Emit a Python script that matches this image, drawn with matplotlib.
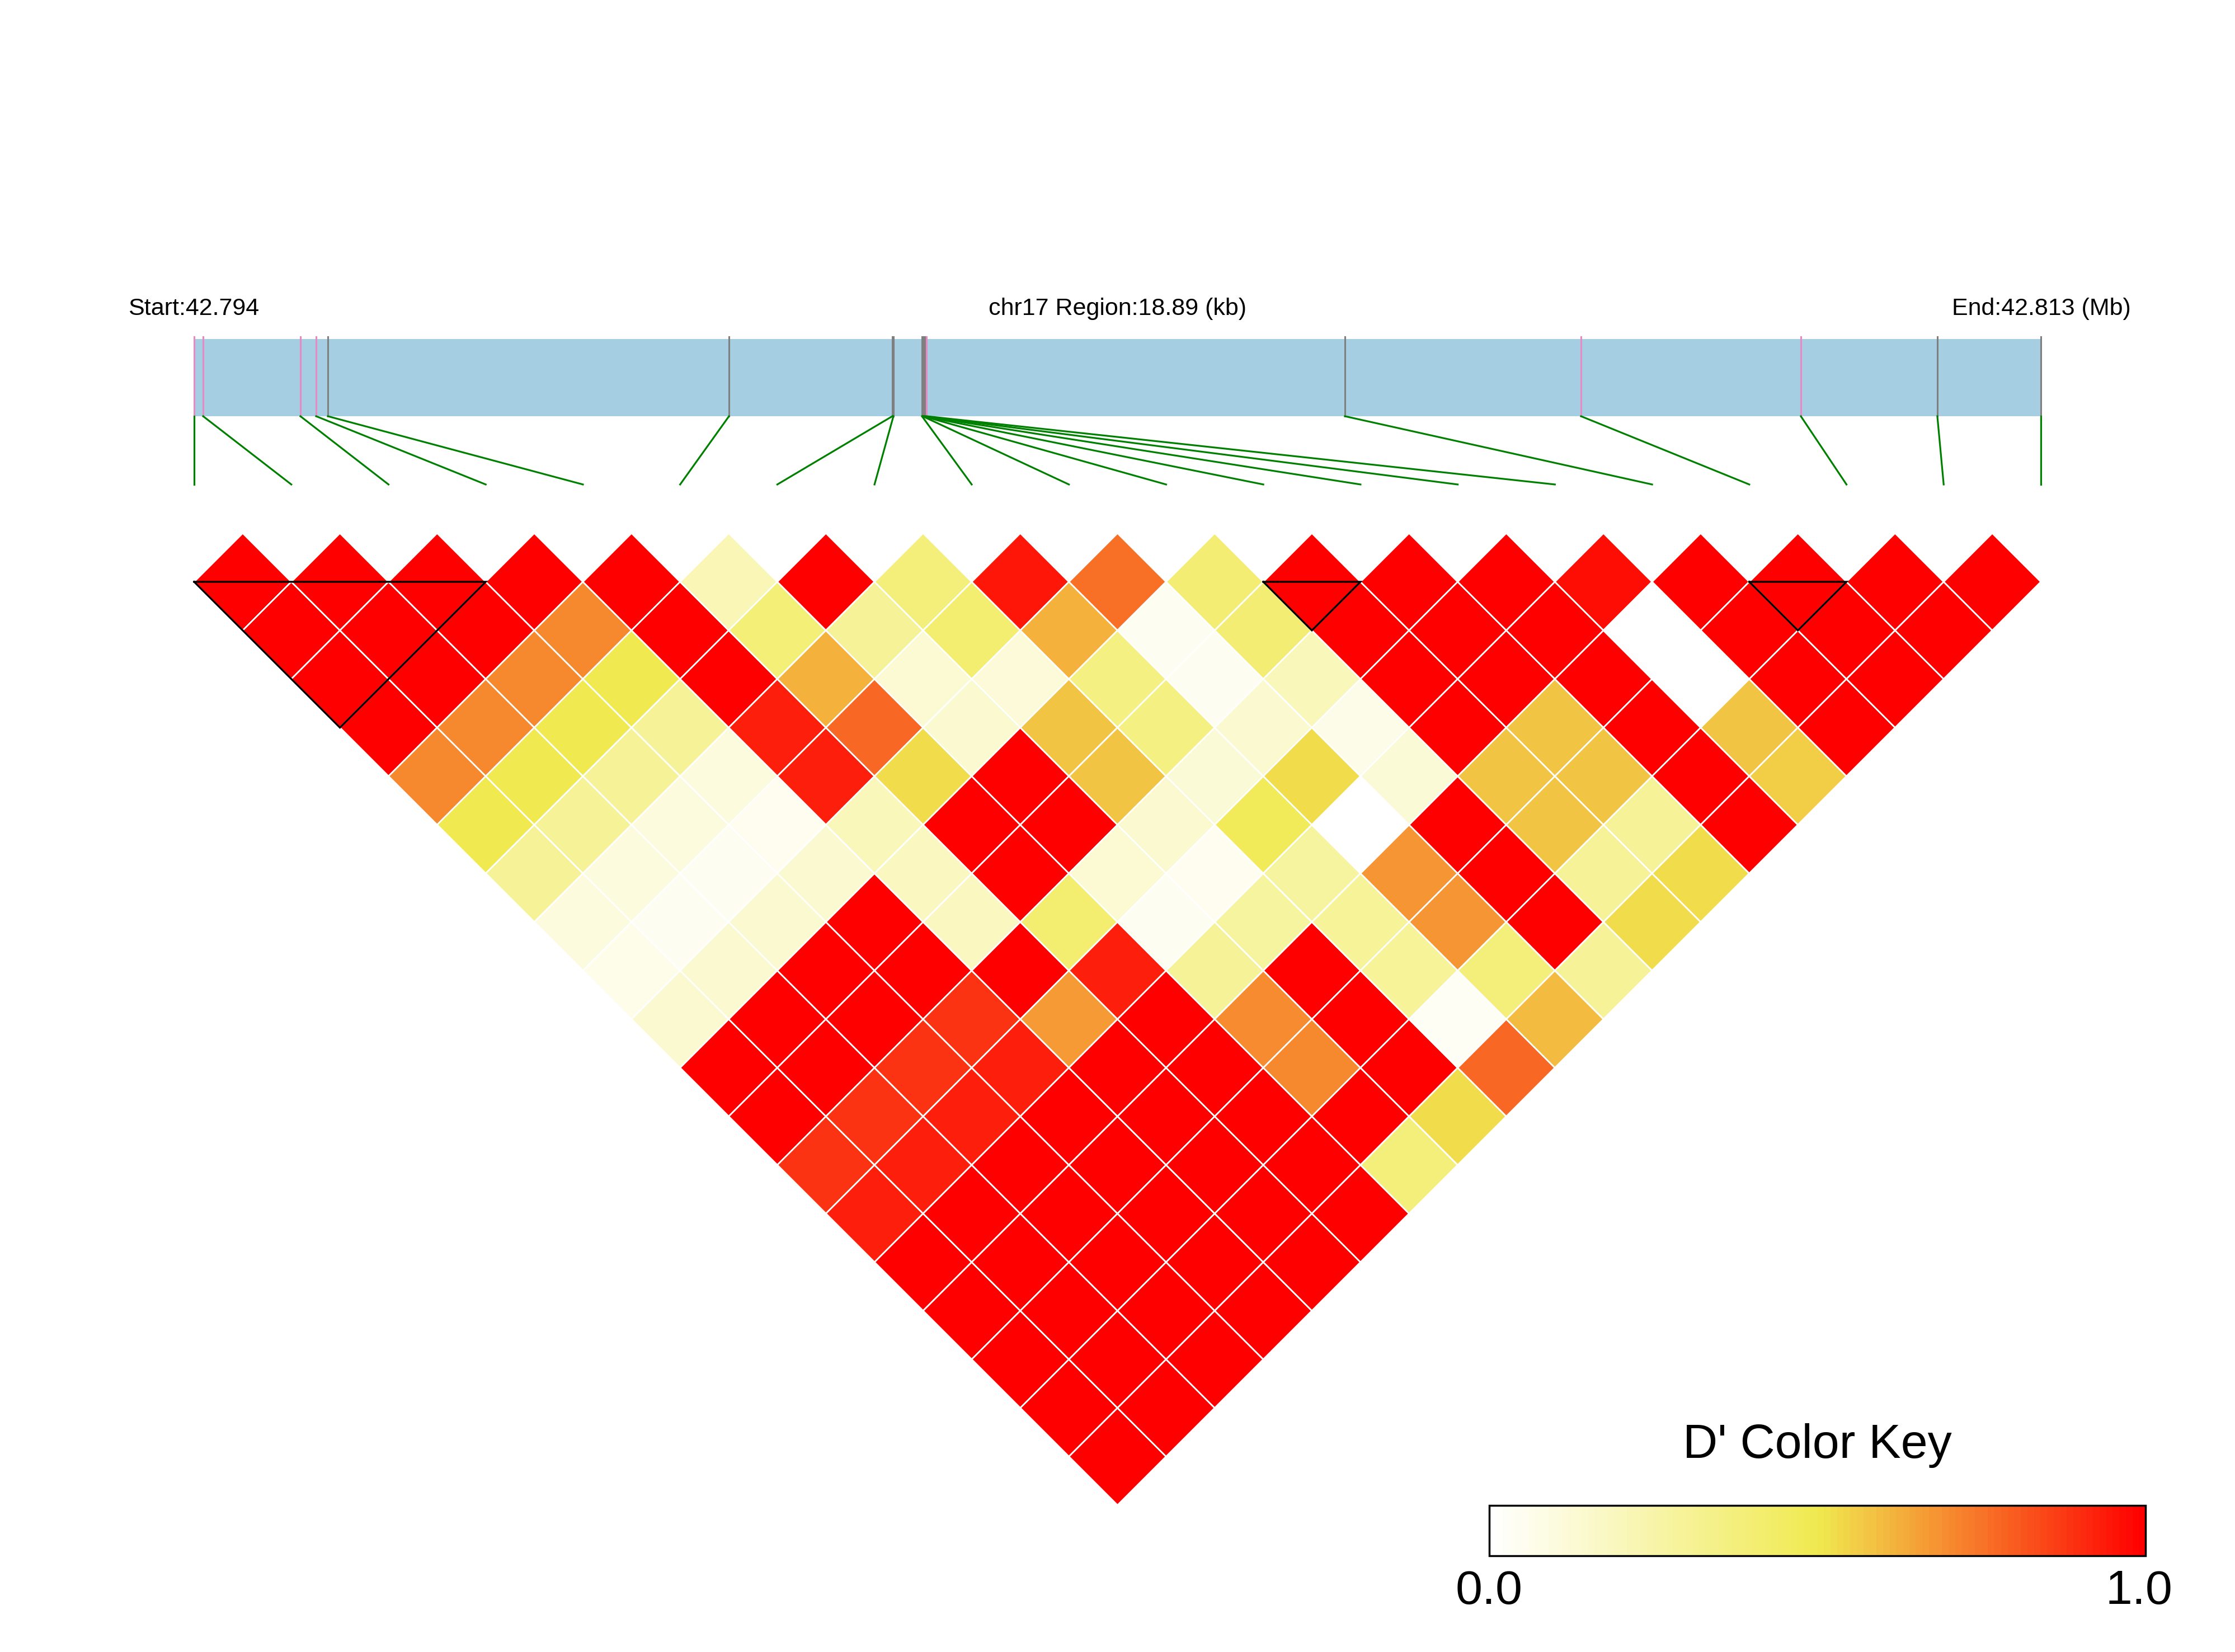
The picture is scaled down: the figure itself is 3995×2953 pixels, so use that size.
import numpy as np
import matplotlib
matplotlib.use("Agg")
import matplotlib.pyplot as plt
from matplotlib.colors import LinearSegmentedColormap
from matplotlib.collections import PolyCollection
from matplotlib.patches import Rectangle

plt.rcParams['font.family'] = ['Liberation Sans', 'DejaVu Sans']

# region and SNPs
chrom = "chr17"
region_start = 42794100
region_end = 42812990
snp_offsets = [0, 92, 1087, 1248, 1368, 5471, 7142, 7153, 7445, 7451,
               7456, 7462, 7468, 7474, 7491, 11771, 14186, 16435, 17831, 18890]
snp_pos = [region_start + o for o in snp_offsets]
# 1 = pink tick on the gene bar, 0 = grey tick
snp_flag = [1, 1, 1, 1, 0, 0, 0, 0, 0, 0, 0, 0, 0, 0, 1, 0, 1, 1, 0, 0]

# pairwise D' (row i holds SNP i against SNP i+1 .. last)
dprime_rows = [
    [1, 1, 1, 1, 0.71, 0.5, 0.3, 0.1, 0.06, 0.14, 1, 1, 0.89, 0.93, 1, 1, 1, 1, 1],
    [1, 1, 1, 0.71, 0.5, 0.3, 0.1, 0.04, 0.14, 1, 1, 0.89, 0.93, 1, 1, 1, 1, 1],
    [1, 1, 0.71, 0.5, 0.3, 0.1, 0.04, 0.14, 1, 1, 0.89, 0.93, 1, 1, 1, 1, 1],
    [1, 0.71, 0.5, 0.3, 0.1, 0.05, 0.14, 1, 1, 0.89, 0.93, 1, 1, 1, 1, 1],
    [1, 1, 1, 0.93, 0.93, 0.2, 0.18, 0.18, 1, 0.67, 1, 1, 1, 1, 1],
    [0.21, 0.39, 0.62, 0.78, 0.53, 1, 1, 0.41, 0.93, 1, 1, 1, 1, 1],
    [1, 0.3, 0.13, 0.14, 1, 1, 0.13, 0.04, 0.3, 0.7, 0.71, 1, 0.38],
    [0.38, 0.41, 0.11, 0.58, 0.58, 0.14, 0.05, 0.27, 1, 1, 1, 0.53],
    [0.95, 0.62, 0.36, 0.36, 0.12, 0.47, 0.27, 0.29, 0.29, 0.03, 0.78],
    [0.76, 0.04, 0.04, 0.14, 0.53, 0.0, 0.68, 0.68, 0.38, 0.6],
    [0.4, 0.4, 0.2, 0.07, 0.12, 1, 1, 1, 0.3],
    [1, 1, 1, 1, 0.58, 0.58, 0.3, 0.53],
    [1, 1, 1, 0.58, 0.58, 0.3, 0.53],
    [1, 1, 1, 1, 1, 1],
    [0.97, 0.0, 0.0, 0.58, 0.56],
    [1, 1, 1, 1],
    [1, 1, 1],
    [1, 1],
    [1],
]

# haplotype blocks (first SNP, last SNP)
ld_blocks = [(0, 3), (11, 12), (16, 17)]

cmap = LinearSegmentedColormap.from_list(
    "dprime", [(0, "#FFFFFF"), (0.5, "#F0EA50"), (1, "#FF0000")])

W, H = 3995, 2953
fig = plt.figure(figsize=(W / 100, H / 100), dpi=100)
ax = fig.add_axes([0, 0, 1, 1])
ax.set_xlim(0, W)
ax.set_ylim(H, 0)
ax.axis("off")

bar_left, bar_right = 347, 3648
bar_top, bar_bottom = 606, 744
fan_bottom = 866
tri_top = 1040

n = len(snp_pos)
xs = bar_left + np.arange(n) * (bar_right - bar_left) / (n - 1)
half = (xs[1] - xs[0]) / 2
pos_x = bar_left + (np.array(snp_pos) - region_start) / (region_end - region_start) * (bar_right - bar_left)

# gene bar
ax.add_patch(Rectangle((bar_left, bar_top), bar_right - bar_left, bar_bottom - bar_top,
                       facecolor="#A6CEE3", edgecolor="none"))
for x, flag in zip(pos_x, snp_flag):
    ax.plot([x, x], [bar_top - 4, bar_bottom], color="#E78AC3" if flag else "#7F7F7F", lw=2.2)
for x, xt in zip(pos_x, xs):
    ax.plot([x, xt], [bar_bottom, fan_bottom], color="#008000", lw=2.3)

ax.text(229, 563, "Start:%.3f" % (region_start / 1e6), fontsize=31, ha="left", va="baseline")
ax.text((bar_left + bar_right) / 2, 563,
        "%s Region:%.2f (kb)" % (chrom, (region_end - region_start) / 1000),
        fontsize=31, ha="center", va="baseline")
ax.text(3809, 563, "End:%.3f (Mb)" % (region_end / 1e6), fontsize=31, ha="right", va="baseline")

# LD diamonds
verts, vals = [], []
for i, row in enumerate(dprime_rows):
    for k, v in enumerate(row):
        j = i + 1 + k
        cx = (xs[i] + xs[j]) / 2
        cy = tri_top + (j - i - 1) * half
        verts.append([(cx - half, cy), (cx, cy - half), (cx + half, cy), (cx, cy + half)])
        vals.append(v)
pc = PolyCollection(verts, facecolors=cmap(np.array(vals)), edgecolors="white", linewidths=2)
ax.add_collection(pc)

for a, b in ld_blocks:
    apex = ((xs[a] + xs[b]) / 2, tri_top + (xs[b] - xs[a]) / 2)
    ax.plot([xs[a], xs[b], apex[0], xs[a]], [tri_top, tri_top, apex[1], tri_top],
            color="black", lw=2.4, solid_joinstyle="miter")

# colour key
key_l, key_r, key_t, key_b = 2662, 3835, 2691, 2781
steps = 100
sw = (key_r - key_l) / steps
for s in range(steps):
    ax.add_patch(Rectangle((key_l + s * sw, key_t), sw + 0.6, key_b - key_t,
                           facecolor=cmap(s / (steps - 1)), edgecolor="none"))
ax.add_patch(Rectangle((key_l, key_t), key_r - key_l, key_b - key_t,
                       fill=False, edgecolor="black", lw=2.5))
ax.text((key_l + key_r) / 2, 2606, "D' Color Key", fontsize=62, ha="center", va="baseline")
ax.text(key_l, 2867, "0.0", fontsize=62, ha="center", va="baseline")
ax.text(key_r - 12, 2867, "1.0", fontsize=62, ha="center", va="baseline")

fig.savefig("out.png", dpi=100, facecolor="white")
